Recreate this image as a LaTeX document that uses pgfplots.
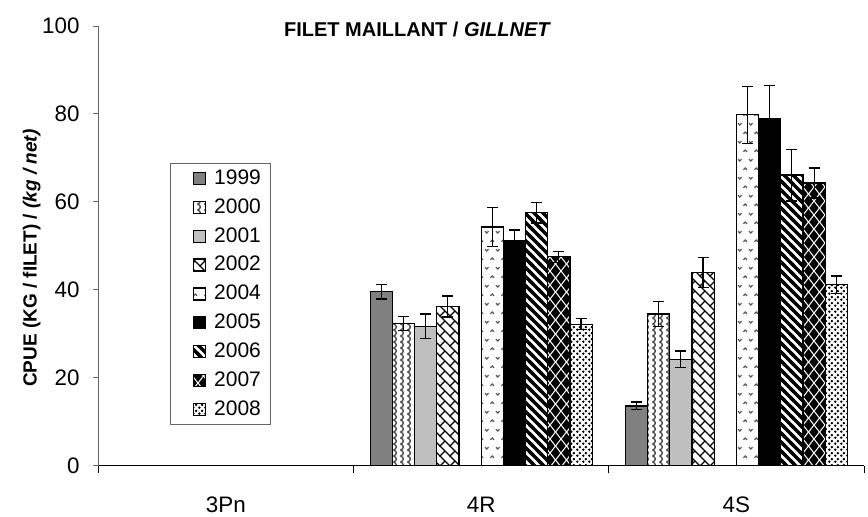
\documentclass[border=0pt]{standalone}
\usepackage{fontspec}
\setmainfont{Liberation Sans}
\usepackage{pgfplots}
\pgfplotsset{compat=1.18}
\usetikzlibrary{patterns}

\pgfdeclarepatternformonly{wavy}{\pgfpoint{-1pt}{-1pt}}{\pgfpoint{4.5pt}{4pt}}{\pgfpoint{3.5pt}{3pt}}{%
  \pgfsetlinewidth{0.7pt}%
  \pgfpathmoveto{\pgfpoint{0.8pt}{0pt}}%
  \pgfpathcurveto{\pgfpoint{2.6pt}{0.6pt}}{\pgfpoint{2.6pt}{2.4pt}}{\pgfpoint{0.8pt}{3pt}}%
  \pgfusepath{stroke}}
\pgfdeclarepatternformonly{brick}{\pgfpoint{-1pt}{-1pt}}{\pgfpoint{6pt}{6pt}}{\pgfpoint{5pt}{5pt}}{%
  \pgfsetlinewidth{0.55pt}%
  \pgfpathmoveto{\pgfpoint{-0.2pt}{5.2pt}}\pgfpathlineto{\pgfpoint{5.2pt}{-0.2pt}}%
  \pgfpathmoveto{\pgfpoint{0pt}{0pt}}\pgfpathlineto{\pgfpoint{2.5pt}{2.5pt}}%
  \pgfusepath{stroke}}
\pgfdeclarepatternformonly{chevrons}{\pgfpoint{-1pt}{-1pt}}{\pgfpoint{6.5pt}{10pt}}{\pgfpoint{5.5pt}{9pt}}{%
  \pgfsetlinewidth{0.6pt}%
  \pgfpathmoveto{\pgfpoint{0.5pt}{7.4pt}}\pgfpathlineto{\pgfpoint{1.4pt}{6.5pt}}\pgfpathlineto{\pgfpoint{2.3pt}{7.4pt}}%
  \pgfpathmoveto{\pgfpoint{3.2pt}{2.1pt}}\pgfpathlineto{\pgfpoint{4.1pt}{3pt}}\pgfpathlineto{\pgfpoint{5pt}{2.1pt}}%
  \pgfusepath{stroke}}
\pgfdeclarepatternformonly{thickstripes}{\pgfpoint{-1.5pt}{-1.5pt}}{\pgfpoint{6pt}{6pt}}{\pgfpoint{4.5pt}{4.5pt}}{%
  \pgfsetlinewidth{1.6pt}%
  \pgfpathmoveto{\pgfpoint{-1pt}{5.5pt}}\pgfpathlineto{\pgfpoint{5.5pt}{-1pt}}%
  \pgfusepath{stroke}}
\pgfdeclarepatternformonly{diamonds}{\pgfpoint{-2.5pt}{-3.2pt}}{\pgfpoint{5.5pt}{7pt}}{\pgfpoint{5.5pt}{7pt}}{%
  \pgfpathmoveto{\pgfpoint{-2.3pt}{0pt}}\pgfpathlineto{\pgfpoint{0pt}{3pt}}\pgfpathlineto{\pgfpoint{2.3pt}{0pt}}\pgfpathlineto{\pgfpoint{0pt}{-3pt}}\pgfpathclose%
  \pgfpathmoveto{\pgfpoint{0.45pt}{3.5pt}}\pgfpathlineto{\pgfpoint{2.75pt}{6.5pt}}\pgfpathlineto{\pgfpoint{5.05pt}{3.5pt}}\pgfpathlineto{\pgfpoint{2.75pt}{0.5pt}}\pgfpathclose%
  \pgfusepath{fill}}
\pgfdeclarepatternformonly{densedots}{\pgfpoint{0pt}{0pt}}{\pgfpoint{3pt}{3pt}}{\pgfpoint{3pt}{3pt}}{%
  \pgfpathcircle{\pgfpoint{0.75pt}{0.75pt}}{0.75pt}%
  \pgfpathcircle{\pgfpoint{2.25pt}{2.25pt}}{0.75pt}%
  \pgfusepath{fill}}

\pgfplotsset{
  eb/.style={error bars/.cd, y dir=both, y explicit,
    error bar style={line width=0.6pt, black},
    error mark options={rotate=90, line width=0.6pt, black, mark size=2.75pt}}
}

\begin{document}
\begin{tikzpicture}
\begin{axis}[
  at={(49.15pt,25.15pt)}, anchor=south west,
  scale only axis, width=382.85pt, height=219.85pt,
  xmin=-0.5, xmax=2.5, ymin=0, ymax=100,
  axis x line=bottom, axis y line=left,
  axis line style={-},
  y axis line style={draw=black!60},
  tick align=outside,
  ytick={0,20,40,60,80,100},
  ytick style={black!60, line width=0.5pt},
  major tick length=2.5pt,
  xtick={0,1,2}, xticklabels={3Pn,4R,4S},
  major x tick style={draw=none},
  minor xtick={-0.5,0.5,1.5,2.5},
  minor tick length=3.8pt,
  minor x tick style={black, line width=0.5pt},
  /pgf/number format/assume math mode=true,
  ticklabel style={font=\fontsize{11.2}{13}\selectfont},
  yticklabel style={anchor=east, inner sep=0pt, xshift=-6.65pt},
  xticklabel style={anchor=north, inner sep=0pt, yshift=-13pt},
  ylabel={\bfseries CPUE (KG / fILET) / \textit{(kg / net)}},
  ylabel style={at={(axis description cs:-0.087,0.472)}, anchor=center,
    font=\fontsize{9.5}{11}\selectfont},
  title={FILET MAILLANT / \textit{GILLNET}},
  title style={at={(axis description cs:0.417,0.975)}, anchor=base, inner sep=0pt,
    yshift=-6pt, font=\fontsize{10}{12}\selectfont\bfseries},
  ybar, bar width=0.087, bar shift=0pt,
  every axis plot/.append style={draw=black, line width=0.6pt},
  legend cell align=left,
  legend style={at={(axis description cs:0.0936,0.6884)}, anchor=north west,
    draw=black!60, line width=0.6pt, fill=white,
    font=\fontsize{10.5}{12}\selectfont,
    inner xsep=1pt, inner ysep=2pt, row sep=3.6pt,
    nodes={inner xsep=4pt, inner ysep=1pt}},
  legend image code/.code={%
    \pgfpathmoveto{\pgfpoint{0pt}{0pt}}\pgfusepath{discard}%
    \draw[#1, line width=0.6pt] (10.5pt,-3pt) rectangle (16.5pt,3pt);},
]
% 1999
\addplot[fill=black!50, eb] coordinates {(0.6085,39.6) +- (0,1.7) (1.6085,13.6) +- (0,0.9)};
% 2000
\addplot[pattern=wavy, pattern color=black!70, eb] coordinates {(0.6955,32.3) +- (0,1.6) (1.6955,34.5) +- (0,2.8)};
% 2001
\addplot[fill=black!25, eb] coordinates {(0.7825,31.7) +- (0,2.8) (1.7825,24.2) +- (0,1.9)};
% 2002
\addplot[pattern=brick, pattern color=black, eb] coordinates {(0.8695,36.2) +- (0,2.4) (1.8695,44.0) +- (0,3.4)};
% 2004
\addplot[pattern=chevrons, pattern color=black!65, eb] coordinates {(1.0435,54.3) +- (0,4.5) (2.0435,79.8) +- (0,6.5)};
% 2005
\addplot[fill=black, eb] coordinates {(1.1305,51.3) +- (0,2.3) (2.1305,79.0) +- (0,7.4)};
% 2006
\addplot[pattern=thickstripes, pattern color=black, eb] coordinates {(1.2175,57.5) +- (0,2.3) (2.2175,66.1) +- (0,5.9)};
% 2007
\addplot[pattern=diamonds, pattern color=black, eb] coordinates {(1.3045,47.5) +- (0,1.2) (2.3045,64.3) +- (0,3.4)};
% 2008
\addplot[pattern=densedots, pattern color=black, eb] coordinates {(1.3915,32.2) +- (0,1.3) (2.3915,41.2) +- (0,1.95)};
\legend{1999,2000,2001,2002,2004,2005,2006,2007,2008}
\end{axis}
\pgfresetboundingbox
\path[use as bounding box] (0,0) rectangle (434pt,258pt);
\end{tikzpicture}
\end{document}
